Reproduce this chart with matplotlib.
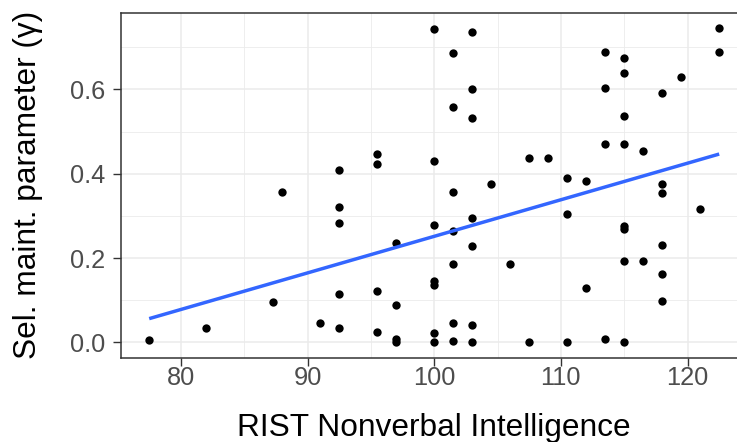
import numpy as np
import matplotlib
matplotlib.use("Agg")
import matplotlib.pyplot as plt
from matplotlib.ticker import MultipleLocator

# RIST nonverbal score vs selective maintenance parameter
rist = [100.0, 103.0, 101.5, 103.0, 101.5, 103.0, 95.5, 95.5, 100.0, 92.5,
        107.5, 109.0, 113.5, 115.0, 115.0, 113.5, 119.5, 118.0, 115.0, 122.5,
        122.5, 113.5, 115.0, 116.5, 110.5, 112.0, 88.0, 87.3, 82.0, 77.5,
        91.0, 92.5, 92.5, 97.0, 100.0, 101.5, 101.5, 103.0, 103.0, 104.5,
        101.5, 106.0, 100.0, 100.0, 92.5, 95.5, 97.0, 92.5, 95.5, 97.0,
        97.0, 100.0, 100.0, 101.5, 101.5, 103.0, 103.0, 107.5, 118.0, 118.0,
        121.0, 110.5, 115.0, 115.0, 118.0, 115.0, 116.5, 118.0, 112.0, 118.0,
        110.5, 113.5, 115.0]
gamma = [0.744, 0.736, 0.687, 0.602, 0.559, 0.532, 0.447, 0.423, 0.431, 0.409,
         0.437, 0.437, 0.689, 0.675, 0.640, 0.603, 0.630, 0.592, 0.536, 0.745,
         0.689, 0.471, 0.471, 0.454, 0.391, 0.382, 0.356, 0.095, 0.033, 0.006,
         0.046, 0.321, 0.284, 0.235, 0.279, 0.356, 0.265, 0.294, 0.229, 0.375,
         0.186, 0.187, 0.145, 0.137, 0.114, 0.122, 0.089, 0.034, 0.024, 0.009,
         0.000, 0.022, 0.000, 0.047, 0.004, 0.040, 0.000, 0.001, 0.375, 0.354,
         0.317, 0.305, 0.277, 0.270, 0.230, 0.194, 0.193, 0.161, 0.129, 0.098,
         0.000, 0.008, 0.001]

x = np.array(rist)
y = np.array(gamma)

plt.rcParams['font.family'] = ['Liberation Sans', 'DejaVu Sans']

fig = plt.figure(figsize=(7.37, 4.42), dpi=100)
# panel runs past the right edge of the picture, as in the original crop
ax = fig.add_axes([120.7 / 737, (442 - 358) / 442, 627 / 737, 345.3 / 442])

ax.set_axisbelow(True)
ax.xaxis.set_major_locator(MultipleLocator(10))
ax.xaxis.set_minor_locator(MultipleLocator(5))
ax.yaxis.set_major_locator(MultipleLocator(0.2))
ax.yaxis.set_minor_locator(MultipleLocator(0.1))
ax.grid(which='major', color='#EBEBEB', linewidth=1.1)
ax.grid(which='minor', color='#EBEBEB', linewidth=0.6)

ax.scatter(x, y, s=36, color='black', zorder=3, linewidths=0)

# linear fit, like geom_smooth(method = "lm", se = FALSE)
slope, icpt = np.polyfit(x, y, 1)
xs = np.array([x.min(), x.max()])
ax.plot(xs, icpt + slope * xs, color='#3366FF', linewidth=2.5, zorder=4,
        solid_capstyle='butt')

rng = x.max() - x.min()
ax.set_xlim(x.min() - 0.05 * rng, x.max() + 0.05 * rng)
yr = y.max() - y.min()
ax.set_ylim(y.min() - 0.05 * yr, y.max() + 0.05 * yr)

ax.set_yticks([0.0, 0.2, 0.4, 0.6])
ax.set_yticklabels(['0.0', '0.2', '0.4', '0.6'])
ax.set_xticks([80, 90, 100, 110, 120])

for s in ax.spines.values():
    s.set_color('#333333')
    s.set_linewidth(1.1)

ax.tick_params(which='major', length=5.7, width=1.0, color='#333333',
               labelsize=18.3, labelcolor='#4D4D4D')
ax.tick_params(axis='x', pad=0.3)
ax.tick_params(axis='y', pad=5.2)
ax.tick_params(which='minor', length=0)

ax.set_xlabel('RIST Nonverbal Intelligence', fontsize=22.8)
ax.set_ylabel('Sel. maint. parameter (\u03b3)', fontsize=22.8)
ax.xaxis.set_label_coords(0.5, -0.159)
ax.yaxis.set_label_coords(-0.124, 0.5)

fig.savefig('out.png', dpi=100)
